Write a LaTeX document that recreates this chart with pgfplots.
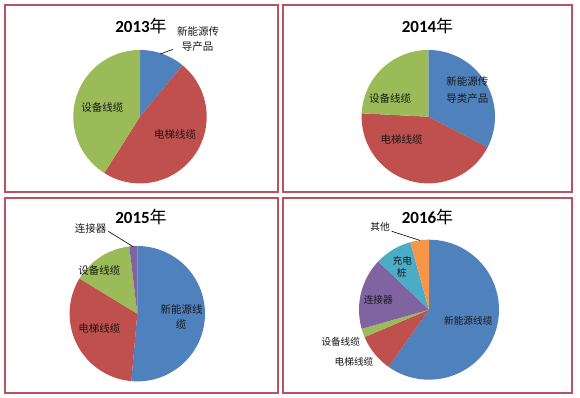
\documentclass[border=0pt]{standalone}
\usepackage{pgfplots}
\pgfplotsset{compat=1.18}
\usepackage{fontspec}
\setmainfont{Noto Sans CJK SC}
\newfontfamily\cjk{Noto Sans CJK SC}
\newfontfamily\calfont{Carlito}
\definecolor{pblue}{HTML}{4F81BD}
\definecolor{pred}{HTML}{C0504D}
\definecolor{pgreen}{HTML}{9BBB59}
\definecolor{ppurple}{HTML}{8064A2}
\definecolor{paqua}{HTML}{4BACC6}
\definecolor{porange}{HTML}{F79646}
\definecolor{frame}{RGB}{185,82,98}
\pgfplotsset{pieaxis/.style={scale only axis, hide axis, anchor=center, clip=false,
  xmin=-1,xmax=1,ymin=-1,ymax=1}}
\newcommand\drawpie[1]{%
  \def\cum{0}%
  \pgfplotsforeachungrouped \v/\c in {#1}{%
    \pgfmathsetmacro\b{90-3.6*\cum}%
    \pgfmathsetmacro\cum{\cum+\v}%
    \pgfmathsetmacro\a{90-3.6*\cum}%
    \edef\doit{\noexpand\addplot[fill=\c,draw=none,domain=\a:\b,samples=60] ({cos(x)},{sin(x)}) -- (axis cs:0,0) -- cycle;}%
    \doit
  }%
}
\newcommand\ttl[1]{{\calfont\fontsize{17}{17}\selectfont\bfseries #1}{\cjk\fontsize{17}{17}\selectfont 年}}
\begin{document}
\begin{tikzpicture}
\path[use as bounding box, fill=white] (0pt,0pt) rectangle (580pt,398pt);
% panels
\draw[frame, line width=1.5pt] (5pt,393pt) rectangle (278pt,206pt);
\draw[frame, line width=1.5pt] (283pt,393pt) rectangle (572pt,206pt);
\draw[frame, line width=1.5pt] (5pt,200pt) rectangle (278pt,5pt);
\draw[frame, line width=1.5pt] (283pt,200pt) rectangle (572pt,5pt);
% 2013
\begin{axis}[pieaxis, at={(140pt,281.3pt)}, width=133.4pt, height=133.4pt]
\drawpie{11/pblue, 48/pred, 41/pgreen}
\end{axis}
% 2014
\begin{axis}[pieaxis, at={(428.3pt,281.3pt)}, width=133.4pt, height=133.4pt]
\drawpie{32.6/pblue, 43.2/pred, 24.2/pgreen}
\end{axis}
% 2015
\begin{axis}[pieaxis, at={(137.3pt,84.3pt)}, width=135.4pt, height=135.4pt]
\drawpie{51.4/pblue, 32.3/pred, 14.4/pgreen, 1.9/ppurple}
\end{axis}
% 2016
\begin{axis}[pieaxis, at={(429pt,88.3pt)}, width=140pt, height=140pt]
\drawpie{59.8/pblue, 8.8/pred, 2.0/pgreen, 16.5/ppurple, 8.6/paqua, 4.3/porange}
\end{axis}
% titles
\node at (141pt,372pt) {\ttl{2013}};
\node at (427.5pt,372pt) {\ttl{2014}};
\node at (141pt,180.7pt) {\ttl{2015}};
\node at (427.5pt,180.7pt) {\ttl{2016}};
% labels
\begin{scope}[every node/.style={font=\cjk\fontsize{10.5}{10.5}\selectfont, inner sep=0pt, text=black!90}]
\node at (198pt,366.3pt) {新能源传};
\node at (197.5pt,351.3pt) {导产品};
\draw[black, line width=0.6pt] (160.5pt,344pt) -- (173pt,348.7pt);
\node at (102.3pt,290.7pt) {设备线缆};
\node at (175pt,263pt) {电梯线缆};
\node at (467.3pt,316.3pt) {新能源传};
\node at (467.3pt,299.7pt) {导类产品};
\node at (390pt,299.7pt) {设备线缆};
\node at (401.7pt,258pt) {电梯线缆};
\node at (90.7pt,169.3pt) {连接器};
\draw[black, line width=0.6pt] (108.3pt,166.7pt) -- (133.3pt,151.2pt);
\node at (99.3pt,127.3pt) {设备线缆};
\node at (99.3pt,69pt) {电梯线缆};
\node at (181.7pt,88.3pt) {新能源线};
\node at (181pt,73.3pt) {缆};
\end{scope}
\begin{scope}[every node/.style={font=\cjk\fontsize{9.7}{9.7}\selectfont, inner sep=0pt, text=black!90}]
\node at (380pt,170.7pt) {其他};
\draw[black, line width=0.6pt] (391.7pt,166.7pt) -- (420pt,157.6pt);
\node at (402.3pt,137.3pt) {充电};
\node at (401.7pt,125pt) {桩};
\node at (378.3pt,97.7pt) {连接器};
\node at (468.3pt,77.3pt) {新能源线缆};
\node at (340.7pt,56pt) {设备线缆};
\node at (354pt,36pt) {电梯线缆};
\end{scope}
\end{tikzpicture}
\end{document}
